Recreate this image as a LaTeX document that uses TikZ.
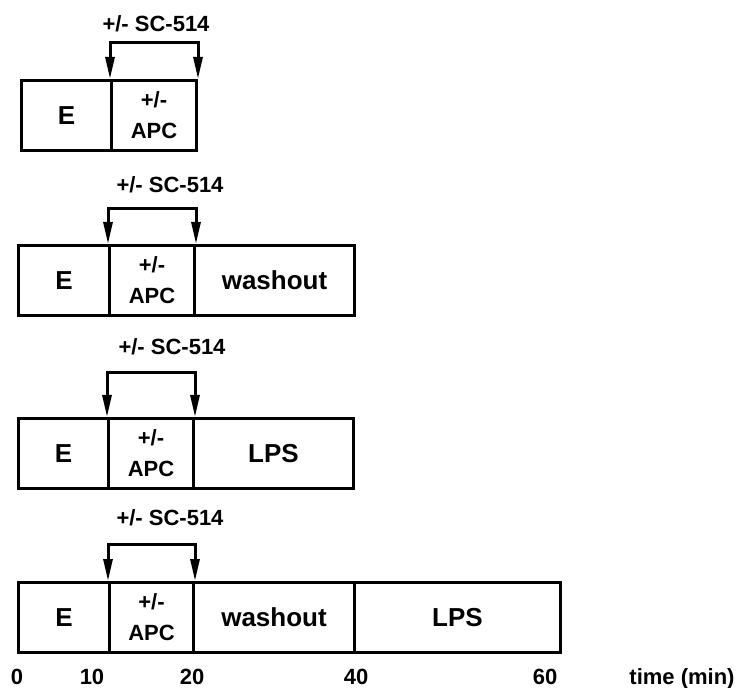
\documentclass[tikz,border=0pt]{standalone}
\usepackage{fontspec}
\setmainfont{Liberation Sans}
\usetikzlibrary{arrows.meta}

\tikzset{
  stage/.style={draw,line width=1.5pt,minimum height=35pt,inner sep=0pt,
    anchor=north west,font=\bfseries\fontsize{13}{15}\selectfont},
  drug/.style={stage,align=center,font=\bfseries\fontsize{11}{15.5}\selectfont},
  bracket/.style={line width=1.5pt,{Triangle[length=11pt,width=4.5pt]}-{Triangle[length=11pt,width=4.5pt]}},
  treat/.style={font=\bfseries\fontsize{11}{13}\selectfont},
  tick/.style={inner sep=0pt,anchor=base,font=\bfseries\fontsize{11}{13}\selectfont}
}

\begin{document}
\begin{tikzpicture}[x=0.5pt,y=-0.5pt,line cap=butt,line join=miter]
  \useasboundingbox (0,0) rectangle (737,688);
  % E and APC segments in every row
  \foreach \r/\top/\xl/\xm/\xr/\up/\lx/\ly in {1/79/20/110/195/36/156/24,
      2/244/17/108/193/35/170/185, 3/417/17/107/192/44/172/347,
      4/581/17/108/192/37/170/518}{
    \node[stage,minimum width={(\xm-\xl)*0.5pt}] (e\r) at (\xl,\top) {E};
    \node[drug,minimum width={(\xr-\xm)*0.5pt}] (apc\r) at (\xm,\top) {+/-\\APC};
    \draw[bracket] (apc\r.north west) -- ++(0,-\up) -| (apc\r.north east);
    \node[treat] (sc\r) at (\lx,\ly) {+/- SC-514};
  }
  % later stages
  \node[stage,minimum width=80pt] (wash2) at (193,244) {washout};
  \node[stage,minimum width=80pt] (lps3) at (192,417) {LPS};
  \node[stage,minimum width=80.5pt] (wash4) at (192,581) {washout};
  \node[stage,minimum width=103pt] (lps4) at (353,581) {LPS};
  % time axis
  \foreach \t/\x in {0/17,10/92,20/192,40/356,60/545}{
    \node[tick] (t\t) at (\x,684) {\t};
  }
  \node[tick] (tunit) at (682,684) {time (min)};
\end{tikzpicture}
\end{document}
